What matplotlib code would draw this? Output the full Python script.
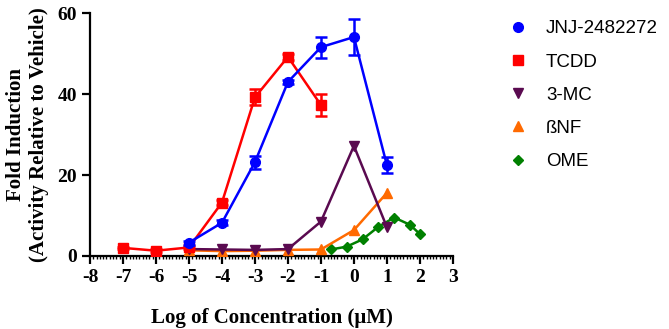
import matplotlib
matplotlib.use("Agg")
import matplotlib.pyplot as plt
import numpy as np
from matplotlib.ticker import MultipleLocator
from matplotlib.lines import Line2D

plt.rcParams['axes.unicode_minus'] = False

# Data
jnj_x = [-5, -4, -3, -2, -1, 0, 1]
jnj_y = [3.3, 8.2, 23.2, 43.0, 51.6, 54.1, 22.4]
jnj_err = [0.5, 0.6, 1.6, 0.6, 2.6, 4.4, 2.0]

tcdd_x = [-7, -6, -5, -4, -3, -2, -1]
tcdd_y = [2.0, 1.3, 2.1, 13.2, 39.2, 49.2, 37.3]
tcdd_err = [0.3, 0.3, 0.3, 0.6, 2.0, 0.8, 2.7]

mc_x = [-5, -4, -3, -2, -1, 0, 1]
mc_y = [1.7, 1.6, 1.5, 1.7, 8.5, 27.2, 7.1]

bnf_x = [-5, -4, -3, -2, -1, 0, 1]
bnf_y = [1.4, 1.2, 1.3, 1.5, 1.6, 6.4, 15.6]

ome_x = [-0.7, -0.22, 0.26, 0.74, 1.22, 1.7, 2.0]
ome_y = [1.6, 2.3, 4.1, 7.2, 9.5, 7.7, 5.4]

labels = ["JNJ-2482272", "TCDD", "3-MC", "\u00dfNF", "OME"]
colors = ["#0000FF", "#FF0000", "#5A0A50", "#FF6A00", "#008000"]

fig = plt.figure(figsize=(6.69, 3.29), dpi=100)
ax = fig.add_axes([0.1345, 0.222, 0.5425, 0.738])

lw = 1.8
ax.plot(ome_x, ome_y, '-D', color=colors[4], lw=lw, ms=5, zorder=3)
ax.plot(bnf_x, bnf_y, '-^', color=colors[3], lw=lw, ms=7, zorder=4)
ax.plot(mc_x, mc_y, '-v', color=colors[2], lw=lw, ms=7, zorder=5)
ax.errorbar(tcdd_x, tcdd_y, yerr=tcdd_err, fmt='-s', color=colors[1], lw=lw,
            ms=7, capsize=4, capthick=lw, elinewidth=lw, zorder=6)
ax.errorbar(jnj_x, jnj_y, yerr=jnj_err, fmt='-o', color=colors[0], lw=lw,
            ms=7, capsize=4, capthick=lw, elinewidth=lw, zorder=7)

ax.set_xlim(-8, 3)
ax.set_ylim(0, 60)
ax.set_xticks(np.arange(-8, 4, 1))
ax.set_yticks([0, 20, 40, 60])
ax.xaxis.set_minor_locator(MultipleLocator(0.1))
for s in ["top", "right"]:
    ax.spines[s].set_visible(False)
for s in ["left", "bottom"]:
    ax.spines[s].set_linewidth(1.6)
ax.tick_params(axis='both', which='major', length=6, width=1.6, direction='out')
ax.tick_params(axis='x', which='minor', length=2.5, width=1.0, direction='out')

tfont = dict(family="Liberation Serif", weight="bold", size=15)
for lab in ax.get_xticklabels() + ax.get_yticklabels():
    lab.set_fontfamily("Liberation Serif")
    lab.set_fontweight("bold")
    lab.set_fontsize(14)
ax.set_xlabel("Log of Concentration (\u03bcM)", fontdict=tfont, labelpad=16)
ax.set_ylabel("Fold Induction\n(Activity Relative to Vehicle)", fontdict=tfont, labelpad=6)

handles = [Line2D([], [], marker='o', color=colors[0], ls='none', ms=7),
           Line2D([], [], marker='s', color=colors[1], ls='none', ms=7),
           Line2D([], [], marker='v', color=colors[2], ls='none', ms=7),
           Line2D([], [], marker='^', color=colors[3], ls='none', ms=7),
           Line2D([], [], marker='D', color=colors[4], ls='none', ms=5)]
fig.legend(handles, labels, loc='upper left', bbox_to_anchor=(0.735, 0.99),
           frameon=False, prop=dict(family="Liberation Sans", size=13.5),
           labelspacing=0.86, handletextpad=1.0, handlelength=1.0)

fig.savefig("out.png", dpi=100)
